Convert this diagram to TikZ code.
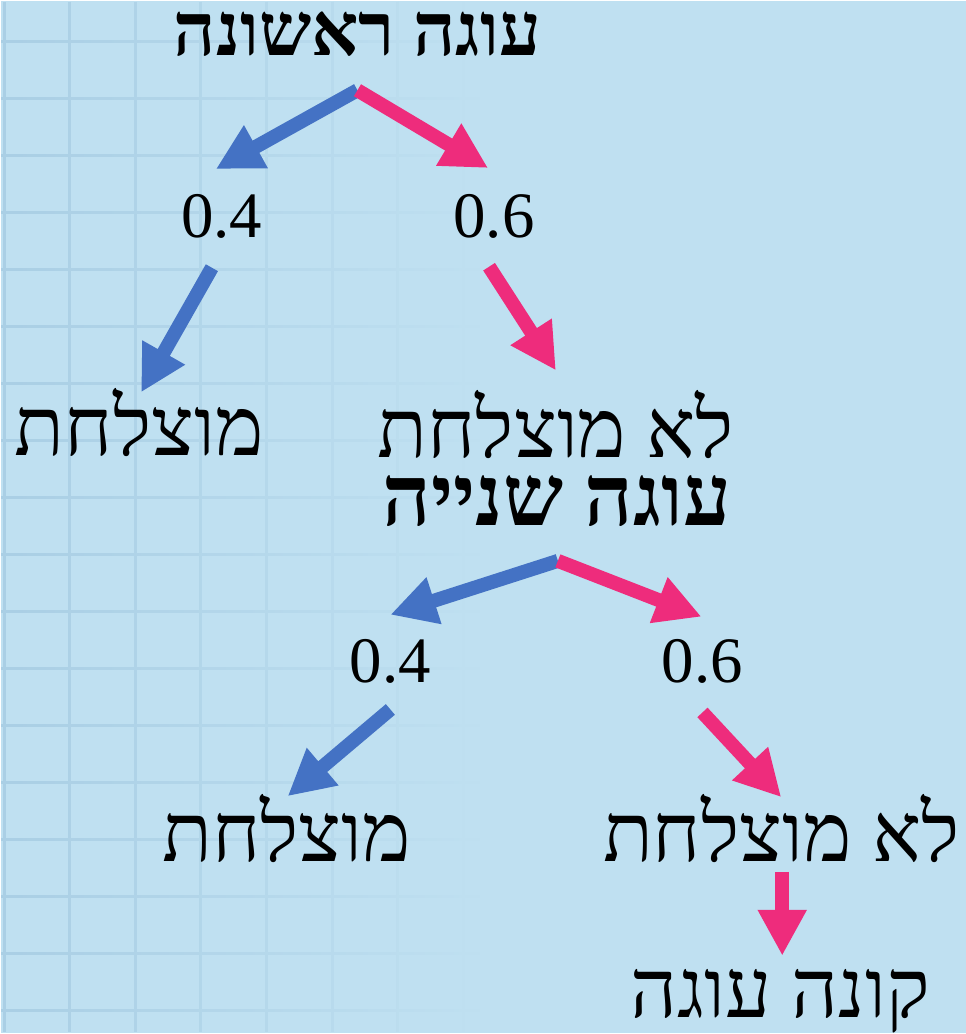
\documentclass[tikz,border=0pt]{standalone}
\usepackage{fontspec}
\setmainfont{Liberation Serif}
\newfontfamily\hebfont[Script=Hebrew]{Liberation Serif}
\TeXXeTstate=1
\usepackage{tikz}
\usetikzlibrary{arrows.meta, calc, fadings}
\definecolor{sky}{RGB}{191, 224, 241}
\definecolor{gridc}{RGB}{170, 207, 229}
\definecolor{cakeblue}{RGB}{68, 114, 196}
\definecolor{cakepink}{RGB}{238, 44, 124}
\newcommand{\heb}[1]{{\hebfont\beginR #1\endR}}
\tikzfading[name=gridfade, left color=transparent!0, right color=transparent!100]

\begin{document}
\begin{tikzpicture}[x=1pt, y=-1pt,
  lbl/.style={anchor=base, inner sep=0pt, font=\fontsize{82}{90}\selectfont},
  ttl/.style={anchor=base, inner sep=0pt, font=\fontsize{74}{80}\selectfont\bfseries},
  num/.style={anchor=base, inner sep=0pt, font=\fontsize{65}{72}\selectfont},
  barr/.style={-{Triangle[length=46pt, width=46pt]}, line width=14pt, cakeblue},
  parr/.style={-{Triangle[length=46pt, width=46pt]}, line width=14pt, cakepink}
]
\fill[sky] (0,0) rectangle (967,1034);
\draw[gridc, line width=3pt, path fading=gridfade]
  foreach \i in {0,...,7} {(3+65.8*\i, 0) -- ++(0, 1034)}
  foreach \j in {0,...,17} {(0, 40+57.2*\j) -- ++(480, 0)};
\useasboundingbox (0,0) rectangle (967,1034);

\node[ttl] (title1) at (357, 54) {\heb{עוגה ראשונה}};
\node[num] (num1l) at (221, 237) {0.4};
\node[num] (num1r) at (494, 237) {0.6};
\node[lbl] (ok1) at (138, 455) {\heb{מוצלחת}};
\node[lbl] (fail1) at (556, 457) {\heb{לא מוצלחת}};
\node[ttl, font=\fontsize{85}{92}\selectfont\bfseries] (title2) at (557, 526) {\heb{עוגה שנייה}};
\node[num] (num2l) at (390, 683) {0.4};
\node[num] (num2r) at (703, 683) {0.6};
\node[lbl] (ok2) at (286, 862) {\heb{מוצלחת}};
\node[lbl] (fail2) at (782, 862) {\heb{לא מוצלחת}};
\node[lbl] (buy) at (781, 1019) {\heb{קונה עוגה}};

\draw[barr] ($(title1.base)+(0,35)$) -- ($(num1l.base)+(-6,-69)$);
\draw[parr] ($(title1.base)+(0,35)$) -- ($(num1r.base)+(-6,-70)$);
\draw[barr] ($(num1l.base)+(-10,30)$) -- ($(ok1.base)+(2,-63)$);
\draw[parr] ($(num1r.base)+(-5,29)$) -- ($(fail1.base)+(0,-87)$);
\draw[barr] ($(title2.base)+(1,35)$) -- ($(num2l.base)+(0,-68)$);
\draw[parr] ($(title2.base)+(1,35)$) -- ($(num2r.base)+(-1,-66)$);
\draw[barr] ($(num2l.base)+(0,27)$) -- ($(ok2.base)+(1,-65)$);
\draw[parr] ($(num2r.base)+(0,30)$) -- ($(fail2.base)+(0,-64)$);
\draw[parr] ($(fail2.base)+(1,11)$) -- ($(buy.base)+(2,-62)$);
\end{tikzpicture}
\end{document}
